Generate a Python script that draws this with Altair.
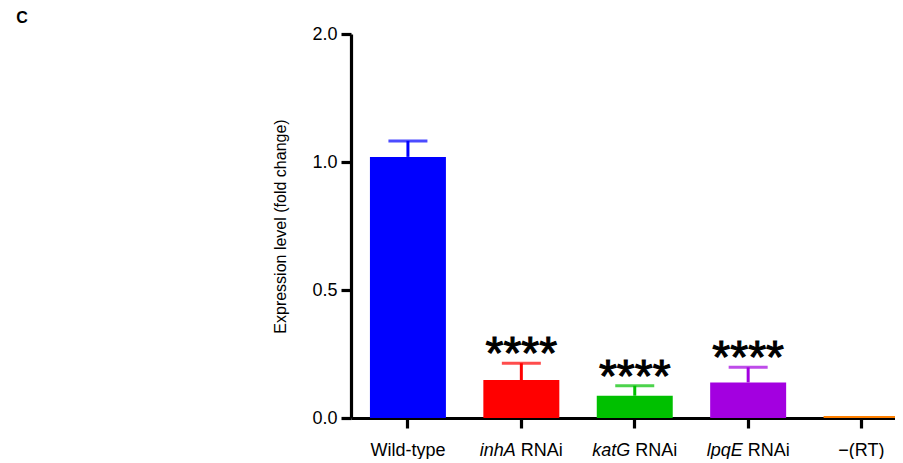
import altair as alt
import pandas as pd

# ---------------- data ----------------
categories = ["Wild-type", "inhA RNAi", "katG RNAi", "lpqE RNAi", "\u2212(RT)"]
label_italic = ["", "inhA", "katG", "lpqE", ""]
label_plain = ["Wild-type", "RNAi", "RNAi", "RNAi", "\u2212(RT)"]
means = [1.04, 0.148, 0.087, 0.139, 0.008]
errors = [0.125, 0.066, 0.039, 0.059, 0.0]
stars = ["", "****", "****", "****", ""]
colors = ["#0000FF", "#FF0000", "#00C000", "#A300E0", "#FF8000"]
y_ticks = [0, 0.5, 1.0, 2.0]
y_title = "Expression level (fold change)"
panel_label = "C"

FONT = "Liberation Sans"
LABEL_SIZE = 18

# Arial / Liberation Sans advance widths (per 1000 em) for centring mixed-style labels
ADV = {" ": 278, "A": 667, "E": 667, "G": 778, "N": 722, "R": 722, "T": 611, "W": 944,
       "a": 556, "d": 556, "e": 556, "g": 556, "h": 556, "i": 222, "k": 500, "l": 222,
       "n": 556, "p": 556, "q": 556, "t": 278, "y": 500, "-": 333, "(": 333, ")": 333,
       "\u2212": 584}


def text_width(s, size):
    return sum(ADV.get(c, 556) for c in s) * size / 1000.0


df = pd.DataFrame({
    "cat": categories,
    "mean": means,
    "err": errors,
    "upper": [m + e for m, e in zip(means, errors)],
    "stars": stars,
})

PLOT_W, PLOT_H = 544, 384
x_scale = alt.Scale(domain=categories, range=[0, 567.5], paddingInner=0.33, paddingOuter=0.167)
y_scale = alt.Scale(domain=[0, 1, 2], range=[384, 128, 0])
color_scale = alt.Scale(domain=categories, range=colors)

x_axis = alt.Axis(title=None, labels=False, ticks=True, tickSize=10, tickWidth=3.2,
                  tickColor="black", domainWidth=3.2, domainColor="black", grid=False)
y_axis = alt.Axis(values=y_ticks, format=".1f", title=y_title, grid=False,
                  tickSize=10, tickWidth=3.2, tickColor="black", domainWidth=3.2,
                  domainColor="black", labelFontSize=18, labelFont=FONT,
                  labelColor="black", labelPadding=4, titleFont=FONT,
                  titleFontSize=16, titleFontWeight="normal", titleColor="black",
                  titleAngle=270, titleX=-66, titleY=192, titleAlign="center",
                  titleBaseline="alphabetic")

X = alt.X("cat:N", sort=categories, scale=x_scale, axis=x_axis)
COLOR = alt.Color("cat:N", scale=color_scale, legend=None)

base = alt.Chart(df)

bars = base.mark_bar(stroke=None).encode(
    x=X, y=alt.Y("mean:Q", scale=y_scale, axis=y_axis), color=COLOR)

err_df = base.transform_filter(alt.datum.err > 0)
stems = err_df.mark_rule(strokeWidth=3).encode(
    x=X, y=alt.Y("mean:Q", scale=y_scale, axis=y_axis), y2="upper:Q", color=COLOR)
caps = err_df.mark_tick(size=39, thickness=3).encode(
    x=X, y=alt.Y("upper:Q", scale=y_scale, axis=y_axis), color=COLOR)

star_text = base.transform_filter(alt.datum.stars != "").mark_text(
    font=FONT, fontSize=46, dy=6, baseline="alphabetic", align="center", color="black",
    stroke="black", strokeWidth=1.1
).encode(x=X, y=alt.Y("upper:Q", scale=y_scale, axis=y_axis), text="stars:N")

label_layers = []
LABEL_Y = 421.7
SPACE = text_width(" ", LABEL_SIZE)
for cat, it, pl in zip(categories, label_italic, label_plain):
    w_it = text_width(it, LABEL_SIZE) + (SPACE if it else 0.0)
    w_pl = text_width(pl, LABEL_SIZE)
    start = -(w_it + w_pl) / 2.0
    sub = base.transform_filter(alt.datum.cat == cat)
    if it:
        label_layers.append(sub.mark_text(
            font=FONT, fontSize=LABEL_SIZE, fontStyle="italic", align="left",
            baseline="alphabetic", dx=start, color="black"
        ).encode(x=X, y=alt.value(LABEL_Y), text=alt.value(it)))
    label_layers.append(sub.mark_text(
        font=FONT, fontSize=LABEL_SIZE, align="left", baseline="alphabetic",
        dx=start + w_it, color="black"
    ).encode(x=X, y=alt.value(LABEL_Y), text=alt.value(pl)))

panel = alt.Chart(pd.DataFrame({"t": [panel_label]})).mark_text(
    font=FONT, fontSize=16, fontWeight="bold", align="center", baseline="middle",
    color="black"
).encode(x=alt.value(-329), y=alt.value(-16), text="t:N")

chart = alt.layer(bars, stems, caps, star_text, *label_layers, panel).properties(
    width=PLOT_W, height=PLOT_H,
    autosize=alt.AutoSizeParams(type="none"),
    padding={"left": 343, "top": 26, "right": 0, "bottom": 41},
    background="white",
).configure_view(stroke=None)

chart.save("out.html", embed_options={"renderer": "svg", "actions": False})
